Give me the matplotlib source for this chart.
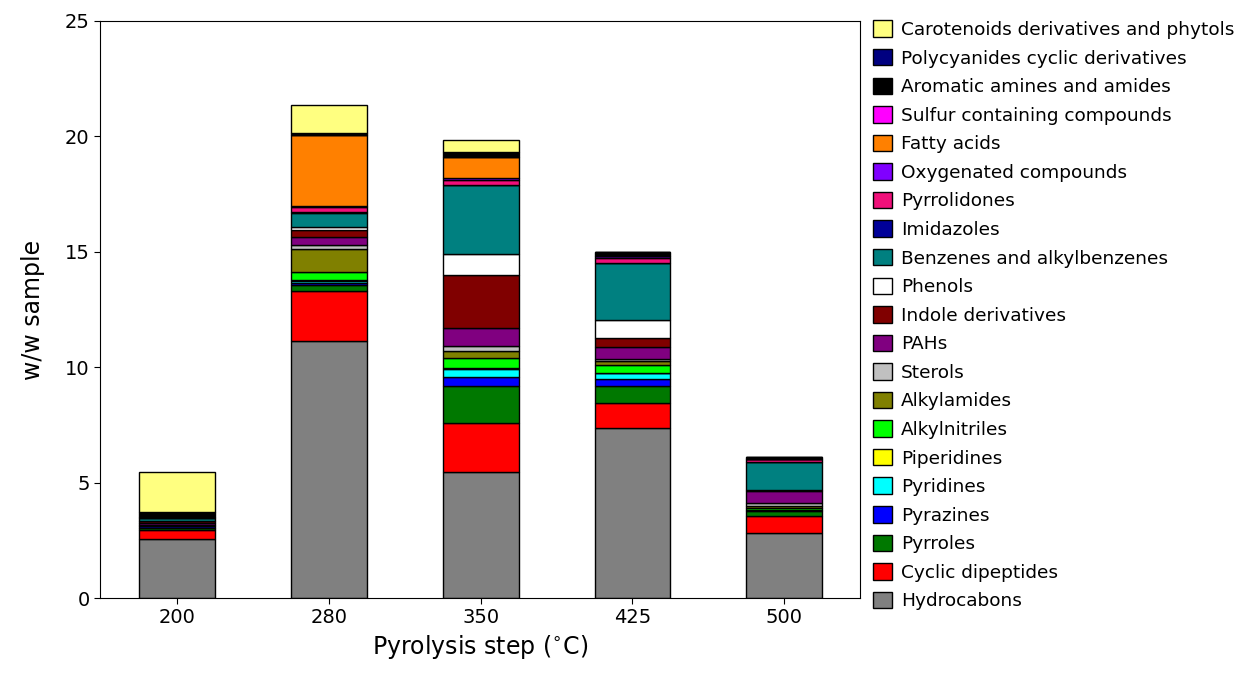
import matplotlib
matplotlib.use("Agg")
import matplotlib.pyplot as plt
import numpy as np

steps = ["200", "280", "350", "425", "500"]

categories = ["Hydrocabons", "Cyclic dipeptides", "Pyrroles", "Pyrazines", "Pyridines",
              "Piperidines", "Alkylnitriles", "Alkylamides", "Sterols", "PAHs",
              "Indole derivatives", "Phenols", "Benzenes and alkylbenzenes", "Imidazoles",
              "Pyrrolidones", "Oxygenated compounds", "Fatty acids",
              "Sulfur containing compounds", "Aromatic amines and amides",
              "Polycyanides cyclic derivatives", "Carotenoids derivatives and phytols"]

colors = ["#808080", "#ff0000", "#007800", "#0000ff", "#00ffff",
          "#ffff00", "#00ff00", "#808000", "#c0c0c0", "#800080",
          "#800000", "#ffffff", "#008080", "#000099",
          "#f0107a", "#8000ff", "#ff8000",
          "#ff00ff", "#000000",
          "#000080", "#ffff80"]

hydrocarbons       = [2.55, 11.14, 5.45, 7.35, 2.80]
cyclic_dipeptides  = [0.40, 2.17, 2.12, 1.08, 0.77]
pyrroles           = [0.10, 0.25, 1.62, 0.77, 0.20]
pyrazines          = [0.05, 0.10, 0.37, 0.29, 0.03]
pyridines          = [0.00, 0.06, 0.35, 0.25, 0.00]
piperidines        = [0.00, 0.05, 0.05, 0.03, 0.00]
alkylnitriles      = [0.05, 0.37, 0.45, 0.33, 0.08]
alkylamides        = [0.00, 1.00, 0.31, 0.18, 0.12]
sterols            = [0.00, 0.14, 0.20, 0.06, 0.10]
pahs               = [0.10, 0.36, 0.77, 0.55, 0.55]
indoles            = [0.10, 0.29, 2.31, 0.39, 0.05]
phenols            = [0.00, 0.15, 0.90, 0.77, 0.00]
benzenes           = [0.12, 0.58, 2.99, 2.45, 1.18]
imidazoles         = [0.00, 0.05, 0.02, 0.02, 0.02]
pyrrolidones       = [0.05, 0.21, 0.20, 0.20, 0.11]
oxygenated         = [0.00, 0.05, 0.10, 0.10, 0.00]
fatty_acids        = [0.00, 3.10, 0.91, 0.00, 0.00]
sulfur             = [0.00, 0.00, 0.00, 0.00, 0.00]
aromatic_amines    = [0.22, 0.07, 0.22, 0.18, 0.09]
polycyanides       = [0.00, 0.00, 0.00, 0.00, 0.00]
carotenoids        = [1.70, 1.20, 0.50, 0.00, 0.00]

series = [hydrocarbons, cyclic_dipeptides, pyrroles, pyrazines, pyridines, piperidines,
          alkylnitriles, alkylamides, sterols, pahs, indoles, phenols, benzenes,
          imidazoles, pyrrolidones, oxygenated, fatty_acids, sulfur, aromatic_amines,
          polycyanides, carotenoids]

plt.rcParams['font.family'] = ['DejaVu Sans']
fig = plt.figure(figsize=(12.38, 6.86), dpi=100)
ax = fig.add_axes([100/1238, 88/686, 760/1238, 577/686])

x = np.arange(len(steps))
bottom = np.zeros(len(steps))
handles = []
for name, vals, c in zip(categories, series, colors):
    vals = np.array(vals)
    h = ax.bar(x, vals, width=0.5, bottom=bottom, color=c, edgecolor="black",
               linewidth=1.0, label=name)
    handles.append(h)
    bottom += vals

ax.set_xlim(-0.51, 4.5)
ax.set_ylim(0, 25)
ax.set_yticks([0, 5, 10, 15, 20, 25])
ax.set_xticks(x)
ax.set_xticklabels(steps)
ax.tick_params(axis='both', labelsize=14, direction='out', length=4)
ax.set_ylabel("w/w sample", fontsize=17, labelpad=14)
ax.set_xlabel("Pyrolysis step ($^{\\circ}$C)", fontsize=17)

leg = fig.legend(handles[::-1], categories[::-1], loc='upper left',
                 bbox_to_anchor=(866/1238, 1 - 13/686), frameon=False,
                 fontsize=13.3, handlelength=1.0, handleheight=1.0,
                 handletextpad=0.5, labelspacing=0.54, borderaxespad=0)

fig.savefig("out.png", dpi=100)
